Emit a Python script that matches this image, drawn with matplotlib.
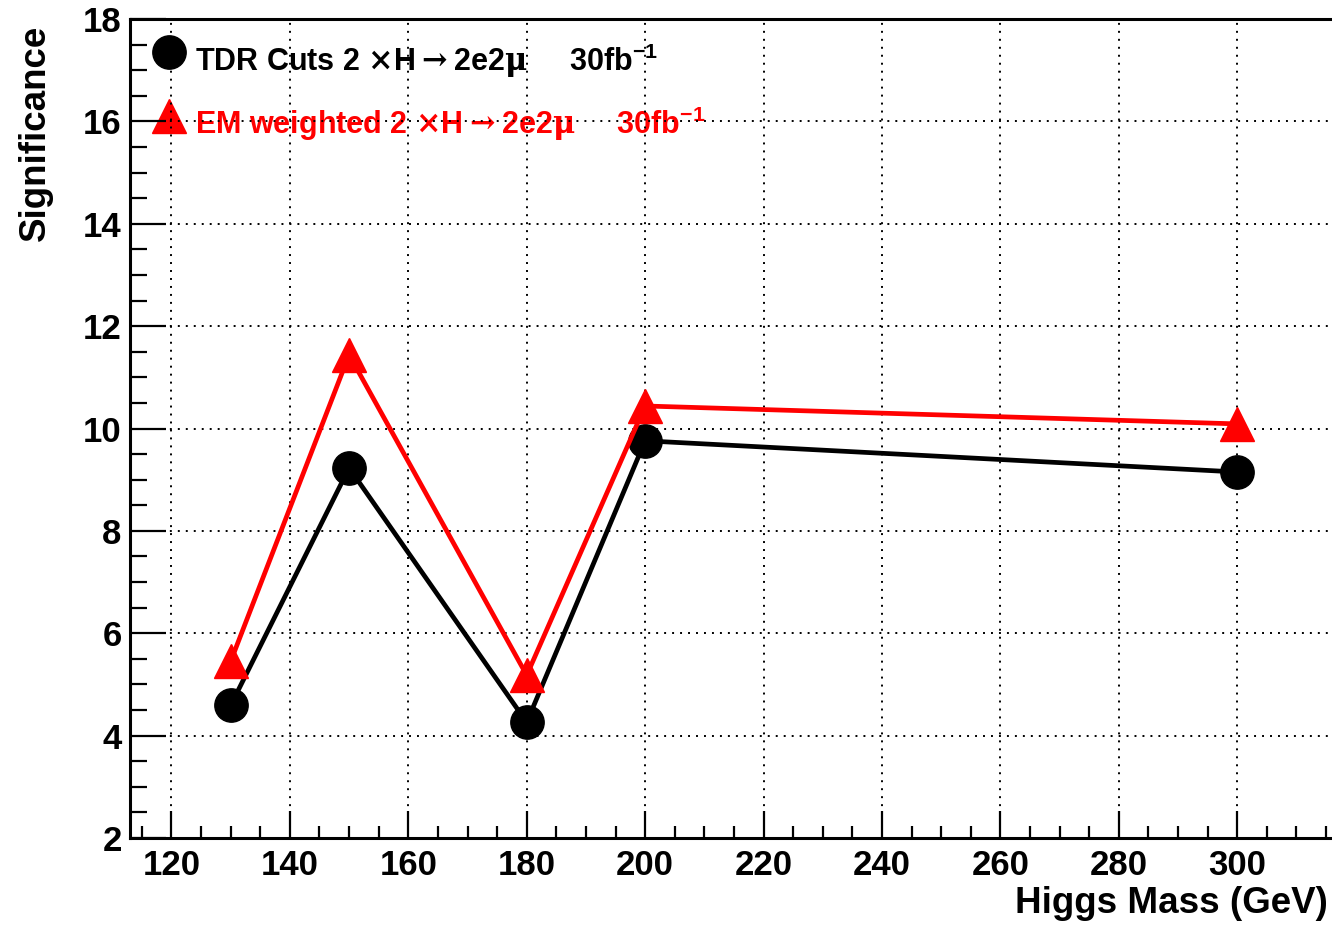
import matplotlib
matplotlib.use("Agg")
import matplotlib.pyplot as plt
from matplotlib.lines import Line2D
from matplotlib.ticker import MultipleLocator

plt.rcParams['font.family'] = ['Liberation Sans', 'DejaVu Sans']
plt.rcParams['font.weight'] = 'bold'
plt.rcParams['mathtext.fontset'] = 'custom'
plt.rcParams['mathtext.rm'] = 'DejaVu Serif'
plt.rcParams['mathtext.bf'] = 'Liberation Sans:bold'

# Higgs mass points (GeV) and significance for 30 fb^-1
masses = [130, 150, 180, 200, 300]
sig_tdr = [4.59, 9.23, 4.26, 9.76, 9.15]
sig_em = [5.45, 11.44, 5.18, 10.44, 10.09]

label_tdr = r"TDR Cuts 2 $\mathrm{\times}$H$\mathrm{\rightarrow}$2e2$\mathrm{\mu}$     30fb$^{\mathbf{-1}}$"
label_em = r"EM weighted 2 $\mathrm{\times}$H$\mathrm{\rightarrow}$2e2$\mathrm{\mu}$     30fb$^{\mathbf{-1}}$"

fig = plt.figure(figsize=(13.32, 9.3), dpi=100)
ax = fig.add_axes([130 / 1332, 92 / 930, 1202 / 1332, 819 / 930])

ax.plot(masses, sig_tdr, color='black', lw=3.4, marker='o', ms=24,
        zorder=3, clip_on=False)
ax.plot(masses, sig_em, color='#ff0000', lw=3.4, marker='^', ms=24,
        zorder=4, clip_on=False)

ax.set_xlim(113, 316)
ax.set_ylim(2, 18)

ax.xaxis.set_major_locator(MultipleLocator(20))
ax.xaxis.set_minor_locator(MultipleLocator(5))
ax.yaxis.set_major_locator(MultipleLocator(2))
ax.yaxis.set_minor_locator(MultipleLocator(0.5))

ax.grid(True, which='major', color='black', lw=1.4, linestyle=(0, (1, 3.1)))

for side in ['left', 'bottom', 'top']:
    ax.spines[side].set_linewidth(2.2)
ax.spines['right'].set_visible(False)

ax.tick_params(axis='both', which='both', direction='in', width=1.6,
               labelsize=25, top=False, right=False)
ax.tick_params(axis='x', which='major', length=19.5, pad=8)
ax.tick_params(axis='x', which='minor', length=8.6)
ax.tick_params(axis='y', which='major', length=26, pad=6)
ax.tick_params(axis='y', which='minor', length=12.5)

ax.set_xlabel("Higgs Mass (GeV)", fontsize=26.5, fontweight='bold', loc='right')
ax.xaxis.set_label_coords((1328 - 130) / 1202, -(886 - 838) / 819)
ax.set_ylabel("Significance", fontsize=26.5, fontweight='bold', loc='top')
ax.yaxis.set_label_coords(-(130 - 53) / 1202, 1 - (25 - 19) / 819)

handles = [
    Line2D([], [], color='black', marker='o', ms=24, ls='none'),
    Line2D([], [], color='#ff0000', marker='^', ms=24, ls='none'),
]
leg = ax.legend(handles, [label_tdr, label_em], loc='upper left',
                bbox_to_anchor=((152 - 130) / 1202, 1 - (37 - 19) / 819),
                frameon=False, fontsize=22, handlelength=1.1,
                handleheight=1.4, handletextpad=0.3, labelspacing=0.82,
                borderpad=0, borderaxespad=0)
for txt, col in zip(leg.get_texts(), ['black', '#ff0000']):
    txt.set_color(col)
    # labels sit a little below the marker centre
    txt.set_position((0, -4.5))
leg.set_zorder(1)

fig.savefig("out.png", dpi=100)
